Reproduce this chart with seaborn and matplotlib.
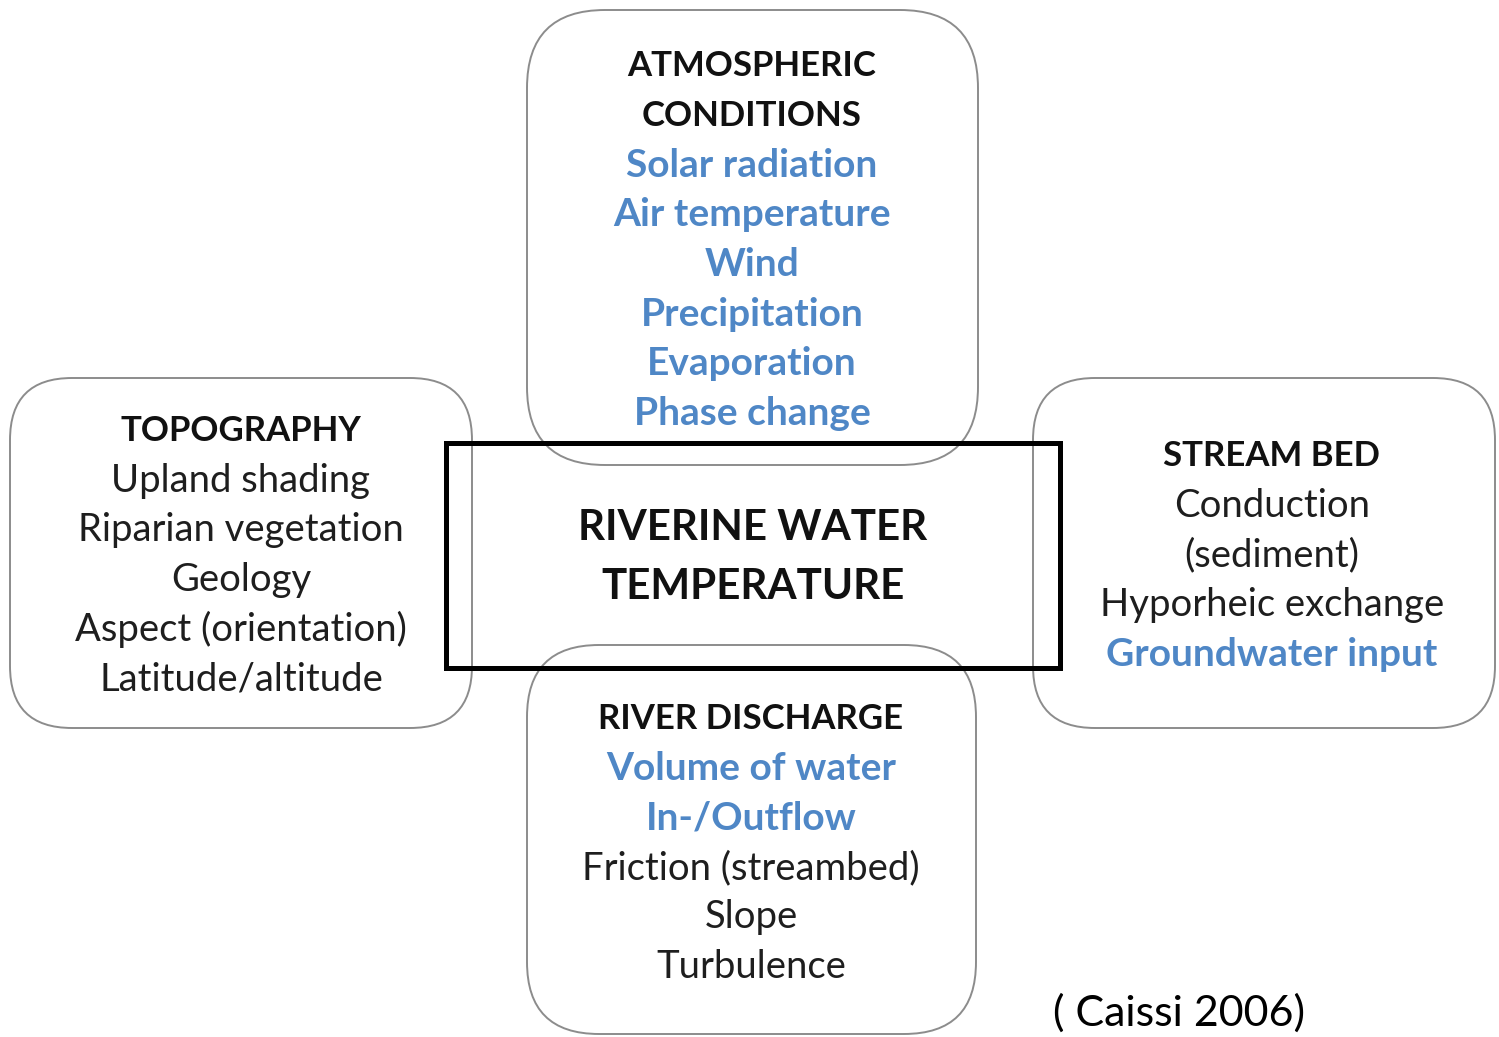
import matplotlib
matplotlib.use("Agg")
import matplotlib.pyplot as plt
import seaborn as sns
from matplotlib.patches import FancyBboxPatch, Rectangle

sns.set_theme(style="white")
plt.rcParams['font.family'] = ['Lato', 'DejaVu Sans']

# texts of the diagram: (text, kind) where kind is title / blue / plain
atmo_lines = [("ATMOSPHERIC", "title"), ("CONDITIONS", "title"),
              ("Solar radiation", "blue"), ("Air temperature", "blue"),
              ("Wind", "blue"), ("Precipitation", "blue"),
              ("Evaporation", "blue"), ("Phase change", "blue")]
topo_lines = [("TOPOGRAPHY", "title"), ("Upland shading", "plain"),
              ("Riparian vegetation", "plain"), ("Geology", "plain"),
              ("Aspect (orientation)", "plain"), ("Latitude/altitude", "plain")]
bed_lines = [("STREAM BED", "title"), ("Conduction", "plain"),
             ("(sediment)", "plain"), ("Hyporheic exchange", "plain"),
             ("Groundwater input", "blue")]
discharge_lines = [("RIVER DISCHARGE", "title"), ("Volume of water", "blue"),
                   ("In-/Outflow", "blue"), ("Friction (streambed)", "plain"),
                   ("Slope", "plain"), ("Turbulence", "plain")]
center_lines = ["RIVERINE WATER", "TEMPERATURE"]
citation = "( Caissi 2006)"

BLUE = "#4f87c6"
DARK = "#1e1e1e"
EDGE = "#8c8c8c"
styles = {"title": dict(color="#111111", weight="bold", fontsize=25),
          "blue": dict(color=BLUE, weight="bold", fontsize=28),
          "plain": dict(color=DARK, weight="normal", fontsize=27.5)}

fig = plt.figure(figsize=(14.99, 10.37), dpi=100)
ax = fig.add_axes([0, 0, 1, 1])
ax.set_xlim(0, 1499)
ax.set_ylim(1037, 0)
ax.axis("off")

# rounded boxes: (x0, y0, x1, y1, radius, lines, text x, first line y)
boxes = [
    (527, 10, 978, 465, 78, atmo_lines, 752, 66),
    (10, 378, 472, 728, 62, topo_lines, 241, 431),
    (1033, 378, 1495, 728, 62, bed_lines, 1272, 456),
    (527, 645, 976, 1034, 72, discharge_lines, 751, 719),
]
step = 49.6
for x0, y0, x1, y1, r, lines, tx, ty in boxes:
    ax.add_patch(FancyBboxPatch((x0, y0), x1 - x0, y1 - y0,
                                boxstyle=f"round,pad=0,rounding_size={r}",
                                fc="none", ec=EDGE, lw=1.4, clip_on=False))
    for i, (txt, kind) in enumerate(lines):
        ax.text(tx, ty + i * step, txt, ha="center", va="center",
                **styles[kind])

# central box
ax.add_patch(Rectangle((446, 443), 614, 225, fc="none", ec="black", lw=3.6))
for i, txt in enumerate(center_lines):
    ax.text(753, 528 + i * 59, txt, ha="center", va="center",
            fontsize=30.3, weight="bold", color="#111111")

# source note, sits at the lower edge
ax.text(1053, 1033, citation, ha="left", va="bottom", fontsize=31, color="black")

fig.savefig("out.png", dpi=100)
